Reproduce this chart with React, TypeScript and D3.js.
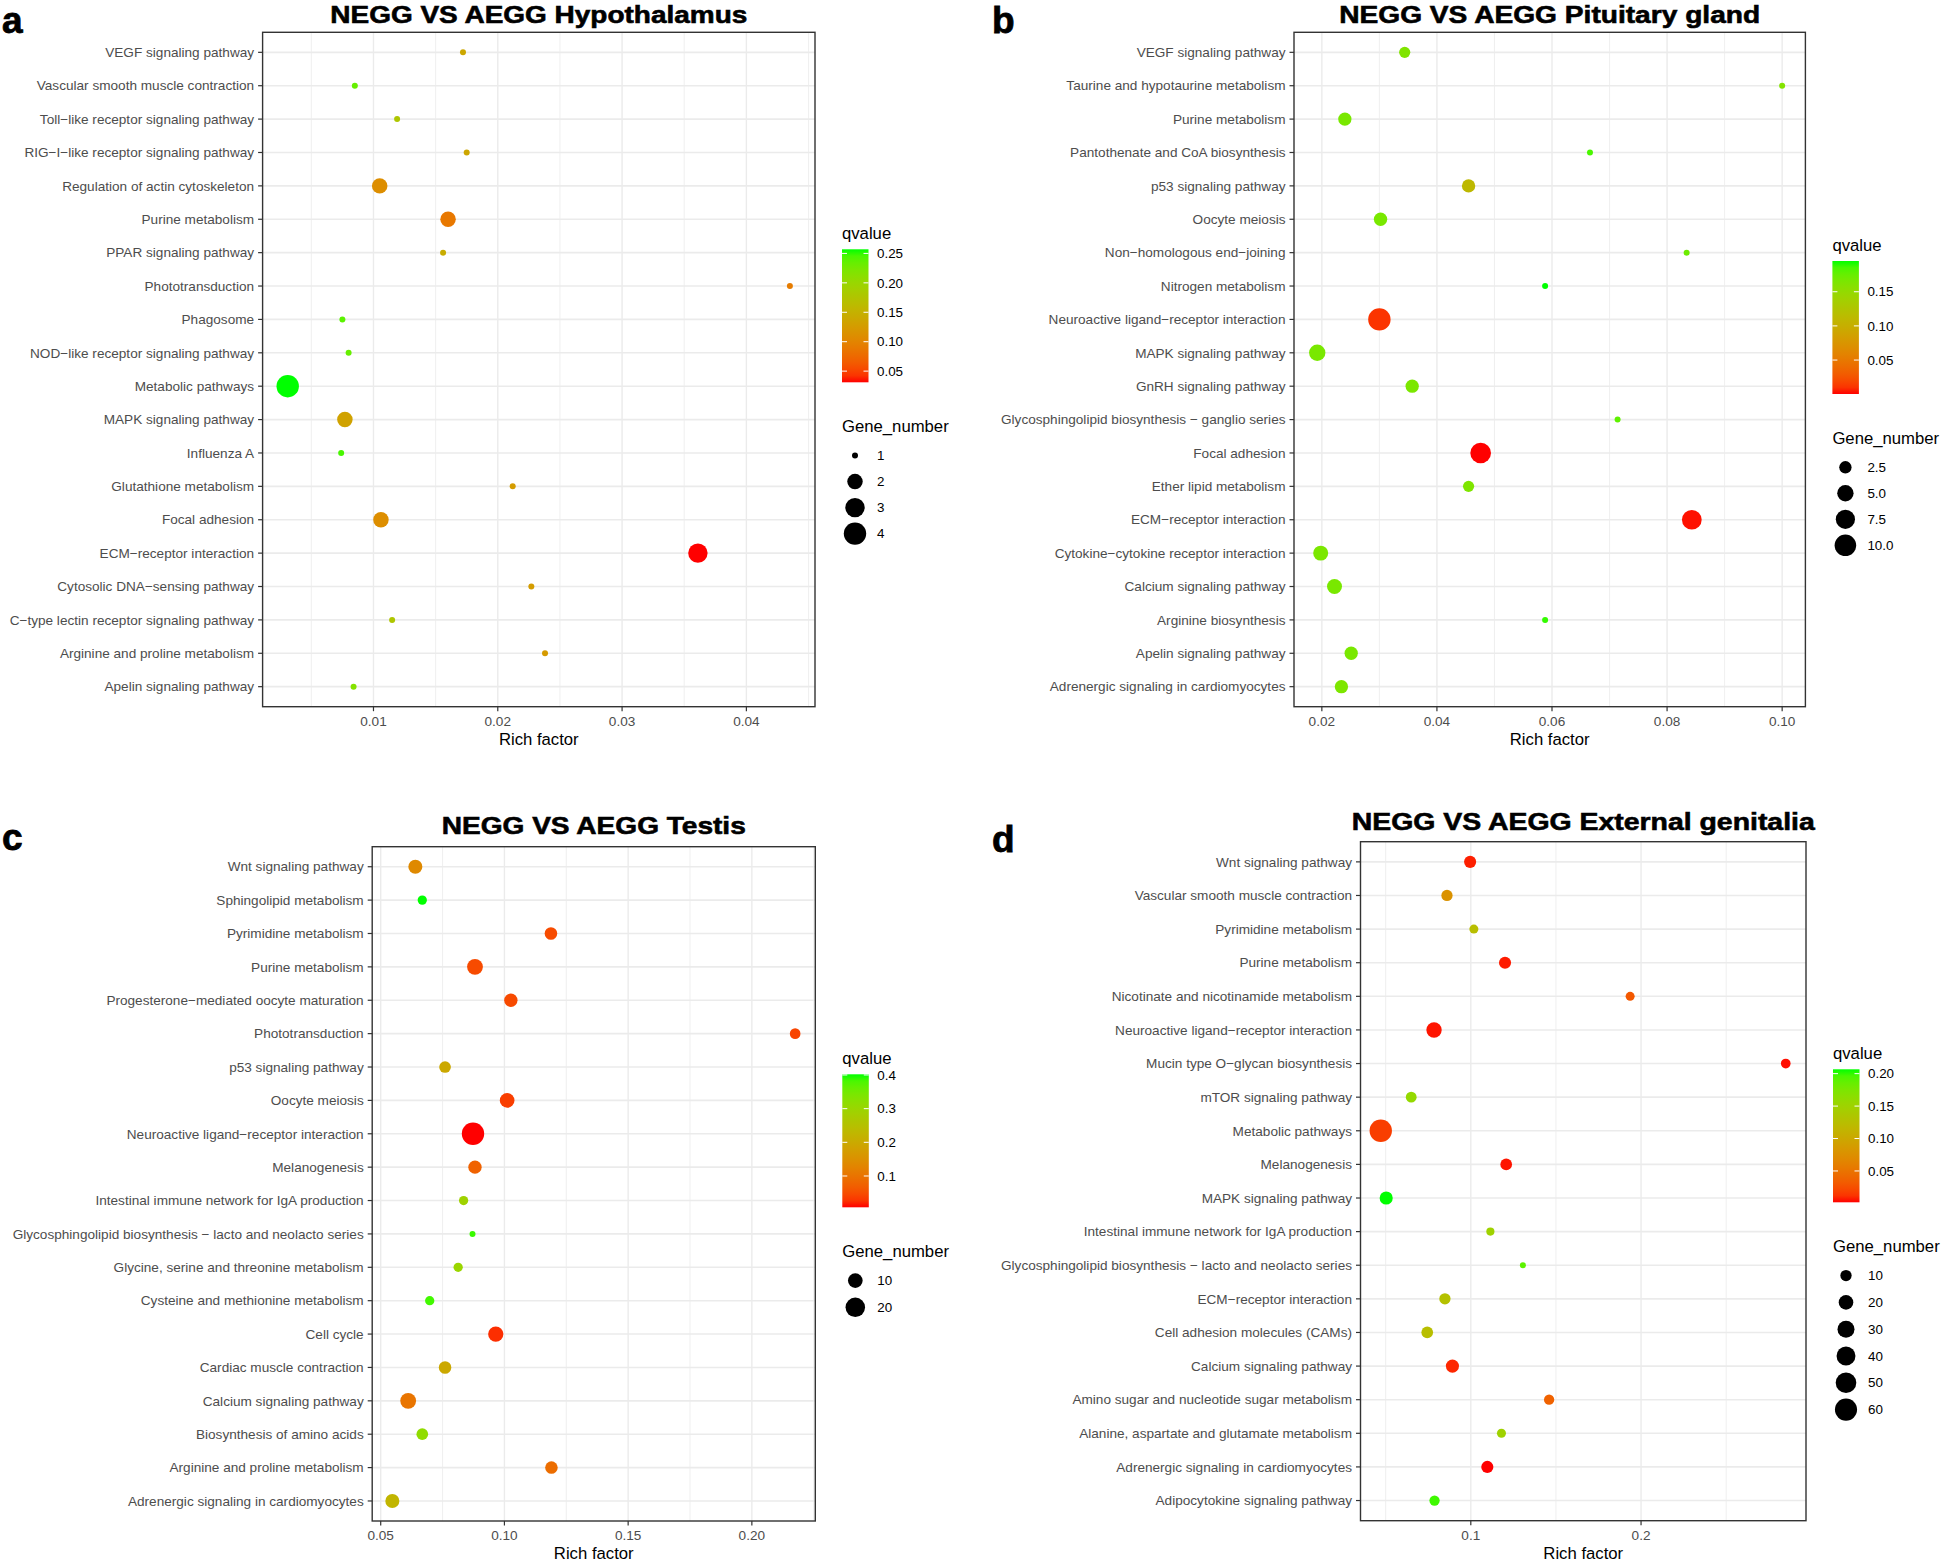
import React from 'react';
import * as d3 from 'd3';

// ---------- Panel a: Hypothalamus ----------
const CATS_A = [
  'VEGF signaling pathway', 'Vascular smooth muscle contraction', 'Toll−like receptor signaling pathway',
  'RIG−I−like receptor signaling pathway', 'Regulation of actin cytoskeleton', 'Purine metabolism',
  'PPAR signaling pathway', 'Phototransduction', 'Phagosome', 'NOD−like receptor signaling pathway',
  'Metabolic pathways', 'MAPK signaling pathway', 'Influenza A', 'Glutathione metabolism', 'Focal adhesion',
  'ECM−receptor interaction', 'Cytosolic DNA−sensing pathway', 'C−type lectin receptor signaling pathway',
  'Arginine and proline metabolism', 'Apelin signaling pathway',
];
const RICH_A = [0.0172, 0.0085, 0.0119, 0.0175, 0.0105, 0.0160, 0.0156, 0.0435, 0.0075, 0.0080,
  0.0031, 0.0077, 0.0074, 0.0212, 0.0106, 0.0361, 0.0227, 0.0115, 0.0238, 0.0084];
const GENES_A = [1, 1, 1, 1, 2, 2, 1, 1, 1, 1, 4, 2, 1, 1, 2, 3, 1, 1, 1, 1];
const Q_A = [0.139, 0.234, 0.178, 0.137, 0.110, 0.088, 0.144, 0.092, 0.239, 0.234,
  0.257, 0.133, 0.246, 0.126, 0.110, 0.031, 0.126, 0.178, 0.124, 0.216];
const XTICKS_A = [0.01, 0.02, 0.03, 0.04];
const XLABELS_A = ['0.01', '0.02', '0.03', '0.04'];
const QBREAKS_A = [0.05, 0.10, 0.15, 0.20, 0.25];
const QLABELS_A = ['0.05', '0.10', '0.15', '0.20', '0.25'];
const SBREAKS_A = [1, 2, 3, 4];
const SLABELS_A = ['1', '2', '3', '4'];

// ---------- Panel b: Pituitary gland ----------
const CATS_B = [
  'VEGF signaling pathway', 'Taurine and hypotaurine metabolism', 'Purine metabolism',
  'Pantothenate and CoA biosynthesis', 'p53 signaling pathway', 'Oocyte meiosis', 'Non−homologous end−joining',
  'Nitrogen metabolism', 'Neuroactive ligand−receptor interaction', 'MAPK signaling pathway',
  'GnRH signaling pathway', 'Glycosphingolipid biosynthesis − ganglio series', 'Focal adhesion',
  'Ether lipid metabolism', 'ECM−receptor interaction', 'Cytokine−cytokine receptor interaction',
  'Calcium signaling pathway', 'Arginine biosynthesis', 'Apelin signaling pathway',
  'Adrenergic signaling in cardiomyocytes',
];
const RICH_B = [0.0344, 0.100, 0.0240, 0.0666, 0.0455, 0.0302, 0.0834, 0.0588, 0.0300, 0.0192,
  0.0357, 0.0714, 0.0476, 0.0455, 0.0843, 0.0198, 0.0222, 0.0588, 0.0251, 0.0234];
const GENES_B = [2, 1, 3, 1, 3, 3, 1, 1, 11, 5, 3, 1, 9, 2, 8, 4, 4, 1, 3, 3];
const Q_B = [0.162, 0.160, 0.166, 0.185, 0.111, 0.166, 0.172, 0.195, 0.010, 0.166,
  0.165, 0.178, 0.0003, 0.163, 0.002, 0.165, 0.166, 0.190, 0.166, 0.164];
const XTICKS_B = [0.02, 0.04, 0.06, 0.08, 0.10];
const XLABELS_B = ['0.02', '0.04', '0.06', '0.08', '0.10'];
const QBREAKS_B = [0.05, 0.10, 0.15];
const QLABELS_B = ['0.05', '0.10', '0.15'];
const SBREAKS_B = [2.5, 5, 7.5, 10];
const SLABELS_B = ['2.5', '5.0', '7.5', '10.0'];

// ---------- Panel c: Testis ----------
const CATS_C = [
  'Wnt signaling pathway', 'Sphingolipid metabolism', 'Pyrimidine metabolism', 'Purine metabolism',
  'Progesterone−mediated oocyte maturation', 'Phototransduction', 'p53 signaling pathway', 'Oocyte meiosis',
  'Neuroactive ligand−receptor interaction', 'Melanogenesis', 'Intestinal immune network for IgA production',
  'Glycosphingolipid biosynthesis − lacto and neolacto series', 'Glycine, serine and threonine metabolism',
  'Cysteine and methionine metabolism', 'Cell cycle', 'Cardiac muscle contraction', 'Calcium signaling pathway',
  'Biosynthesis of amino acids', 'Arginine and proline metabolism', 'Adrenergic signaling in cardiomyocytes',
];
const RICH_C = [0.0640, 0.0668, 0.1188, 0.0881, 0.1026, 0.2175, 0.0760, 0.1011, 0.0873, 0.0881,
  0.0835, 0.0871, 0.0813, 0.0698, 0.0965, 0.0760, 0.0611, 0.0668, 0.1190, 0.0547];
const GENES_C = [9, 4, 7, 12, 8, 5, 6, 10, 28, 8, 4, 3, 4, 4, 11, 7, 12, 6, 7, 9];
const Q_C = [0.137, 0.402, 0.047, 0.047, 0.046, 0.040, 0.197, 0.035, 0.007, 0.074,
  0.291, 0.390, 0.300, 0.386, 0.023, 0.197, 0.102, 0.315, 0.090, 0.224];
const XTICKS_C = [0.05, 0.10, 0.15, 0.20];
const XLABELS_C = ['0.05', '0.10', '0.15', '0.20'];
const QBREAKS_C = [0.1, 0.2, 0.3, 0.4];
const QLABELS_C = ['0.1', '0.2', '0.3', '0.4'];
const SBREAKS_C = [10, 20];
const SLABELS_C = ['10', '20'];

// ---------- Panel d: External genitalia ----------
const CATS_D = [
  'Wnt signaling pathway', 'Vascular smooth muscle contraction', 'Pyrimidine metabolism', 'Purine metabolism',
  'Nicotinate and nicotinamide metabolism', 'Neuroactive ligand−receptor interaction',
  'Mucin type O−glycan biosynthesis', 'mTOR signaling pathway', 'Metabolic pathways', 'Melanogenesis',
  'MAPK signaling pathway', 'Intestinal immune network for IgA production',
  'Glycosphingolipid biosynthesis − lacto and neolacto series', 'ECM−receptor interaction',
  'Cell adhesion molecules (CAMs)', 'Calcium signaling pathway', 'Amino sugar and nucleotide sugar metabolism',
  'Alanine, aspartate and glutamate metabolism', 'Adrenergic signaling in cardiomyocytes',
  'Adipocytokine signaling pathway',
];
const RICH_D = [0.0996, 0.0860, 0.1018, 0.1201, 0.1936, 0.0784, 0.2850, 0.0650, 0.0471, 0.1208,
  0.0503, 0.1115, 0.1306, 0.0848, 0.0744, 0.0892, 0.1460, 0.1180, 0.1097, 0.0787];
const GENES_D = [12, 10, 6, 12, 6, 23, 7, 9, 62, 11, 15, 5, 4, 10, 11, 15, 8, 6, 12, 8];
const Q_D = [0.006, 0.078, 0.125, 0.005, 0.030, 0.004, 0.003, 0.158, 0.016, 0.004,
  0.2067, 0.149, 0.190, 0.129, 0.125, 0.008, 0.037, 0.149, 0.0017, 0.199];
const XTICKS_D = [0.1, 0.2];
const XLABELS_D = ['0.1', '0.2'];
const QBREAKS_D = [0.05, 0.10, 0.15, 0.20];
const QLABELS_D = ['0.05', '0.10', '0.15', '0.20'];
const SBREAKS_D = [10, 20, 30, 40, 50, 60];
const SLABELS_D = ['10', '20', '30', '40', '50', '60'];

const FONT = "'Liberation Sans', Arial, Helvetica, sans-serif";

interface PanelSpec {
  letter: string; title: string;
  cats: string[]; rich: number[]; genes: number[]; q: number[];
  xTicks: number[]; xLabels: string[];
  qBreaks: number[]; qLabels: string[];
  sBreaks: number[]; sLabels: string[];
  box: [number, number, number, number];
  titleY: number; titleW: number;
  letterX: number; letterY: number;
  legendY: number; legendStep: number;
}

const PANELS: PanelSpec[] = [
  {
    letter: 'a', title: 'NEGG VS AEGG Hypothalamus', cats: CATS_A, rich: RICH_A, genes: GENES_A, q: Q_A,
    xTicks: XTICKS_A, xLabels: XLABELS_A, qBreaks: QBREAKS_A, qLabels: QLABELS_A, sBreaks: SBREAKS_A, sLabels: SLABELS_A,
    box: [262.6, 32.3, 815, 706.7], titleY: 23, titleW: 417, letterX: 2, letterY: 33,
    legendY: 233.3, legendStep: 26,
  },
  {
    letter: 'b', title: 'NEGG VS AEGG Pituitary gland', cats: CATS_B, rich: RICH_B, genes: GENES_B, q: Q_B,
    xTicks: XTICKS_B, xLabels: XLABELS_B, qBreaks: QBREAKS_B, qLabels: QLABELS_B, sBreaks: SBREAKS_B, sLabels: SLABELS_B,
    box: [1294, 32.3, 1805.4, 706.7], titleY: 23, titleW: 421, letterX: 992, letterY: 33,
    legendY: 245, legendStep: 26,
  },
  {
    letter: 'c', title: 'NEGG VS AEGG Testis', cats: CATS_C, rich: RICH_C, genes: GENES_C, q: Q_C,
    xTicks: XTICKS_C, xLabels: XLABELS_C, qBreaks: QBREAKS_C, qLabels: QLABELS_C, sBreaks: SBREAKS_C, sLabels: SLABELS_C,
    box: [372.2, 846.7, 815.3, 1521], titleY: 834, titleW: 304, letterX: 2, letterY: 850,
    legendY: 1058.3, legendStep: 26.7,
  },
  {
    letter: 'd', title: 'NEGG VS AEGG External genitalia', cats: CATS_D, rich: RICH_D, genes: GENES_D, q: Q_D,
    xTicks: XTICKS_D, xLabels: XLABELS_D, qBreaks: QBREAKS_D, qLabels: QLABELS_D, sBreaks: SBREAKS_D, sLabels: SLABELS_D,
    box: [1360.5, 841.7, 1806, 1520.7], titleY: 830, titleW: 463, letterX: 992, letterY: 852,
    legendY: 1053.3, legendStep: 26.8,
  },
];

function Panel({ p }: { p: PanelSpec }) {
  const [x0, y0, x1, y1] = p.box;
  const lo = d3.min(p.rich) as number;
  const hi = d3.max(p.rich) as number;
  const pad = (hi - lo) * 0.05;
  const x = d3.scaleLinear().domain([lo - pad, hi + pad]).range([x0, x1]);
  const y = d3.scalePoint<string>().domain(p.cats).range([y0, y1]).padding(0.6);
  const [qMin, qMax] = d3.extent(p.q) as [number, number];
  const color = d3.scaleLinear<string>().domain([qMin, qMax]).range(['#ff0000', '#00ff00']).interpolate(d3.interpolateLab);
  const [gMin, gMax] = d3.extent(p.genes) as [number, number];
  const rs = d3.scaleSqrt().domain([0, gMax - gMin]).range([3, 11.2]);
  const radius = (g: number) => rs(Math.max(0, g - gMin));

  const step = p.xTicks.length > 1 ? p.xTicks[1] - p.xTicks[0] : 0.1;
  const minor = d3.range(-1, p.xTicks.length)
    .map((i) => p.xTicks[0] + (i + 0.5) * step)
    .filter((v) => x(v) > x0 + 0.5 && x(v) < x1 - 0.5);

  // legend geometry
  const lx = x1 + 27;
  const barTop = p.legendY + 16;
  const barH = 133;
  const barW = 26.5;
  const qy = d3.scaleLinear().domain([qMin, qMax]).range([barTop + barH, barTop]);
  const geneTitleY = barTop + barH + 44;
  const firstItem = geneTitleY + 29.3;
  const gradId = `grad-${p.letter}`;
  const stops = d3.range(0, 21).map((i) => i / 20);

  const order = d3.range(p.cats.length);

  return (
    <g>
      <defs>
        <linearGradient id={gradId} x1="0" y1="1" x2="0" y2="0">
          {stops.map((s) => (
            <stop key={s} offset={s} stopColor={color(qMin + s * (qMax - qMin))} />
          ))}
        </linearGradient>
      </defs>

      {/* panel label and title */}
      <text x={p.letterX} y={p.letterY} fontSize={37} fontWeight="bold" fill="#000" stroke="#000" strokeWidth={0.8}>{p.letter}</text>
      <text x={(x0 + x1) / 2} y={p.titleY} fontSize={24.5} fontWeight="bold" textAnchor="middle" fill="#000"
        stroke="#000" strokeWidth={0.6} textLength={p.titleW} lengthAdjust="spacingAndGlyphs">{p.title}</text>

      {/* panel background & grid */}
      <rect x={x0} y={y0} width={x1 - x0} height={y1 - y0} fill="#fff" />
      {minor.map((v) => (
        <line key={`mi${v}`} x1={x(v)} x2={x(v)} y1={y0} y2={y1} stroke="#ebebeb" strokeWidth={0.8} />
      ))}
      {p.xTicks.map((v) => (
        <line key={`ma${v}`} x1={x(v)} x2={x(v)} y1={y0} y2={y1} stroke="#ebebeb" strokeWidth={1.4} />
      ))}
      {p.cats.map((c) => (
        <line key={`h${c}`} x1={x0} x2={x1} y1={y(c)} y2={y(c)} stroke="#ebebeb" strokeWidth={1.6} />
      ))}

      {/* points */}
      {order.map((i) => (
        <circle key={`pt${i}`} cx={x(p.rich[i])} cy={y(p.cats[i])} r={radius(p.genes[i])} fill={color(p.q[i])} />
      ))}

      {/* border */}
      <rect x={x0} y={y0} width={x1 - x0} height={y1 - y0} fill="none" stroke="#333333" strokeWidth={1.4} />

      {/* y axis */}
      {p.cats.map((c) => (
        <g key={`y${c}`}>
          <line x1={x0 - 4.5} x2={x0} y1={y(c)} y2={y(c)} stroke="#333333" strokeWidth={1.2} />
          <text x={x0 - 8.5} y={y(c)} dy="0.35em" textAnchor="end" fontSize={13.6} fill="#4d4d4d">{c}</text>
        </g>
      ))}

      {/* x axis */}
      {p.xTicks.map((v, i) => (
        <g key={`x${v}`}>
          <line x1={x(v)} x2={x(v)} y1={y1} y2={y1 + 4.5} stroke="#333333" strokeWidth={1.2} />
          <text x={x(v)} y={y1 + 18.8} textAnchor="middle" fontSize={13.6} fill="#4d4d4d">{p.xLabels[i]}</text>
        </g>
      ))}
      <text x={(x0 + x1) / 2} y={y1 + 37.8} textAnchor="middle" fontSize={16.7} fill="#000">Rich factor</text>

      {/* colour legend */}
      <text x={lx} y={p.legendY + 6} fontSize={16.7} fill="#000">qvalue</text>
      <rect x={lx} y={barTop} width={barW} height={barH} fill={`url(#${gradId})`} />
      {p.qBreaks.map((b, i) => (
        <g key={`qb${b}`}>
          <line x1={lx} x2={lx + 5} y1={qy(b)} y2={qy(b)} stroke="#fff" strokeWidth={1} />
          <line x1={lx + barW - 5} x2={lx + barW} y1={qy(b)} y2={qy(b)} stroke="#fff" strokeWidth={1} />
          <text x={lx + 35} y={qy(b)} dy="0.35em" fontSize={13.4} fill="#000">{p.qLabels[i]}</text>
        </g>
      ))}

      {/* size legend */}
      <text x={lx} y={geneTitleY + 6} fontSize={16.7} fill="#000">Gene_number</text>
      {p.sBreaks.map((b, i) => (
        <g key={`sb${b}`}>
          <circle cx={lx + 13} cy={firstItem + i * p.legendStep} r={radius(b)} fill="#000" />
          <text x={lx + 35} y={firstItem + i * p.legendStep} dy="0.35em" fontSize={13.4} fill="#000">{p.sLabels[i]}</text>
        </g>
      ))}
    </g>
  );
}

export default function App() {
  return (
    <svg
      width={1944}
      height={1563}
      viewBox="0 0 1944 1563"
      style={{ position: 'absolute', left: 0, top: 0, background: '#fff', fontFamily: FONT }}
      fontFamily={FONT}
    >
      <rect x={0} y={0} width={1944} height={1563} fill="#fff" />
      {PANELS.map((p) => (
        <Panel key={p.letter} p={p} />
      ))}
    </svg>
  );
}
